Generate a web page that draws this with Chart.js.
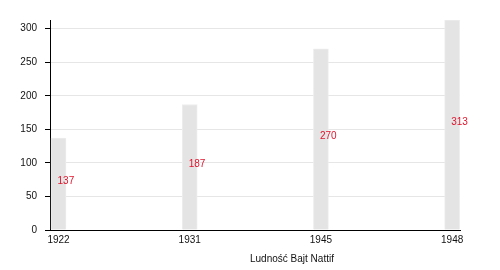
<!DOCTYPE html>
<html>
<head>
<meta charset="utf-8">
<script src="https://cdn.jsdelivr.net/npm/chart.js@4.4.1/dist/chart.umd.min.js"></script>
<style>
  html, body { margin: 0; padding: 0; background: #fff; }
  #wrap { width: 500px; height: 270px; }
</style>
</head>
<body>
<div id="wrap"><canvas id="chart"></canvas></div>
<script>
const years = ["1922", "1931", "1945", "1948"];
const population = [137, 187, 270, 313];
const yTicks = [0, 50, 100, 150, 200, 250, 300];
const axisTitle = "Ludność Bajt Nattif";

const font = "Liberation Sans, Arial, sans-serif";

// red numbers in the middle of each bar
const valueLabels = {
    id: "valueLabels",
    afterDatasetsDraw(chart) {
        const ctx = chart.ctx;
        const meta = chart.getDatasetMeta(0);
        ctx.save();
        ctx.font = "10px " + font;
        ctx.fillStyle = "#e0142c";
        ctx.textAlign = "left";
        ctx.textBaseline = "middle";
        meta.data.forEach((bar, i) => {
            ctx.fillText(String(population[i]), bar.x - 1, (bar.y + bar.base) / 2 - 3);
        });
        ctx.restore();
    }
};

const xTitle = {
    id: "xTitle",
    afterDraw(chart) {
        const ctx = chart.ctx;
        ctx.save();
        ctx.font = "10px " + font;
        ctx.fillStyle = "#111";
        ctx.textAlign = "left";
        ctx.textBaseline = "middle";
        ctx.fillText(axisTitle, chart.chartArea.left + 200, 259);
        ctx.restore();
    }
};

new Chart(document.getElementById("chart"), {
    type: "bar",
    data: {
        datasets: [{
            data: population.map((v, i) => ({ x: i, y: v })),
            backgroundColor: "#e4e4e4",
            borderColor: "#ededed",
            borderWidth: 1,
            barThickness: 15
        }]
    },
    plugins: [valueLabels, xTitle],
    options: {
        responsive: true,
        maintainAspectRatio: false,
        animation: false,
        layout: { padding: { top: 20, right: 40, bottom: 0, left: 0 } },
        plugins: { legend: { display: false }, tooltip: { enabled: false } },
        scales: {
            x: {
                type: "linear",
                offset: false,
                min: -0.065,
                max: 3.06,
                afterBuildTicks: s => { s.ticks = years.map((y, i) => ({ value: i })); },
                afterFit: s => { s.height = 40; },
                grid: { display: false, drawTicks: false, offset: false },
                border: { display: true, color: "#000", width: 1 },
                ticks: {
                    padding: 4,
                    color: "#111",
                    font: { family: font, size: 10 },
                    maxRotation: 0,
                    callback: v => years[v]
                }
            },
            y: {
                min: 0,
                max: 313,
                afterBuildTicks: s => { s.ticks = yTicks.map(v => ({ value: v })); },
                afterFit: s => { s.width = 50; },
                grid: {
                    color: "#e6e6e6",
                    tickColor: "#000",
                    tickLength: 5,
                    drawTicks: true
                },
                border: { display: true, color: "#000", width: 1 },
                ticks: {
                    padding: 8,
                    color: "#111",
                    font: { family: font, size: 10 }
                }
            }
        }
    }
});
</script>
</body>
</html>
